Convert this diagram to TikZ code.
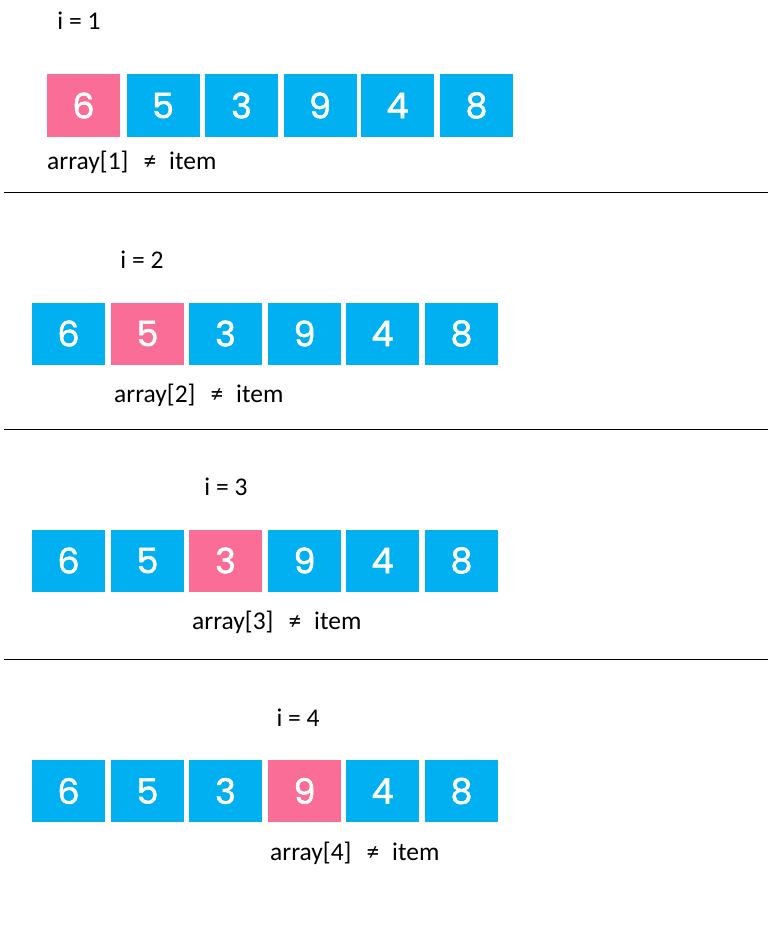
\documentclass[tikz,border=0pt]{standalone}
\usepackage{fontspec}
\setmainfont{Carlito}
\newfontfamily\digitfont{Poppins}[FakeBold=1.5]
\usetikzlibrary{positioning}

\definecolor{cellblue}{HTML}{00B0F0}
\definecolor{cellpink}{HTML}{F96D96}

\tikzset{
  cell/.style={fill=cellblue, minimum width=73pt, minimum height=62pt, inner sep=0pt,
    text=white, font=\digitfont\fontsize{35}{35}\selectfont},
  hit/.style={cell, fill=cellpink},
  caption/.style={font=\fontsize{25.5}{30}\selectfont, inner sep=0pt},
  rule/.style={line width=1pt}
}

\begin{document}
\begin{tikzpicture}[x=1pt, y=-1pt]
\useasboundingbox (0,0) rectangle (768,939);

% i = 1
\node[caption](i1) at (79,21) {i = 1};
\node[hit](A0) at (83.5,105.5) {6};
\node[cell](A1) at (163,105.5) {5};
\node[cell](A2) at (241.5,105.5) {3};
\node[cell](A3) at (320,105.5) {9};
\node[cell](A4) at (397.5,105.5) {4};
\node[cell](A5) at (476.5,105.5) {8};
\node[caption, anchor=west](c1) at (47,162) {array[1]\hspace{15pt}≠\hspace{13pt}item};
\coordinate (l1a) at (4,192);
\coordinate (l1b) at (768,192);
\draw[rule](l1a) -- (l1b);

% i = 2
\node[caption](i2) at (142,260) {i = 2};
\node[cell](B0) at (68.5,333.5) {6};
\node[hit](B1) at (147.5,333.5) {5};
\node[cell](B2) at (225.5,333.5) {3};
\node[cell](B3) at (304.5,333.5) {9};
\node[cell](B4) at (382.5,333.5) {4};
\node[cell](B5) at (461.5,333.5) {8};
\node[caption, anchor=west](c2) at (114,395) {array[2]\hspace{15pt}≠\hspace{13pt}item};
\coordinate (l2a) at (4,429);
\coordinate (l2b) at (768,429);
\draw[rule](l2a) -- (l2b);

% i = 3
\node[caption](i3) at (226,487) {i = 3};
\node[cell](C0) at (68.5,560.5) {6};
\node[cell](C1) at (147.5,560.5) {5};
\node[hit](C2) at (225.5,560.5) {3};
\node[cell](C3) at (304.5,560.5) {9};
\node[cell](C4) at (382.5,560.5) {4};
\node[cell](C5) at (461.5,560.5) {8};
\node[caption, anchor=west](c3) at (192,622) {array[3]\hspace{15pt}≠\hspace{13pt}item};
\coordinate (l3a) at (4,659);
\coordinate (l3b) at (768,659);
\draw[rule](l3a) -- (l3b);

% i = 4
\node[caption](i4) at (298,718) {i = 4};
\node[cell](D0) at (68.5,791) {6};
\node[cell](D1) at (147.5,791) {5};
\node[cell](D2) at (225.5,791) {3};
\node[hit](D3) at (304.5,791) {9};
\node[cell](D4) at (382.5,791) {4};
\node[cell](D5) at (461.5,791) {8};
\node[caption, anchor=west](c4) at (270,853) {array[4]\hspace{15pt}≠\hspace{13pt}item};
\end{tikzpicture}
\end{document}
